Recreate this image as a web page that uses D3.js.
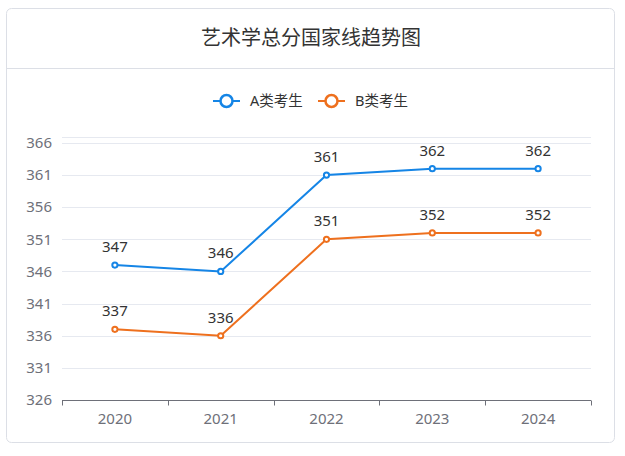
<!DOCTYPE html>
<html><head><meta charset="utf-8">
<script src="https://cdn.jsdelivr.net/npm/d3@7/dist/d3.min.js"></script>
<style>
html,body{margin:0;padding:0;background:#fff;}
svg{display:block;font-family:"Noto Sans","Noto Sans CJK SC",sans-serif;}
</style></head>
<body><svg id="c" width="625" height="456"></svg>
<script>
const title = "艺术学总分国家线趋势图";
const years = ["2020","2021","2022","2023","2024"];
const seriesNames = ["A类考生","B类考生"];
const seriesA = [347,346,361,362,362];
const seriesB = [337,336,351,352,352];
const yTicks = [326,331,336,341,346,351,356,361,366];
const yMin = 326, yMax = 367;
const colors = ["#1585e6","#ee701e"];

const svg = d3.select("#c");
// card
svg.append("rect").attr("x",6.5).attr("y",8.5).attr("width",608).attr("height",434)
  .attr("rx",5).attr("fill","#fff").attr("stroke","#dcdfe6");
svg.append("line").attr("x1",7).attr("x2",614).attr("y1",68.5).attr("y2",68.5).attr("stroke","#dcdfe6");
svg.append("text").attr("x",311).attr("y",45).attr("text-anchor","middle")
  .attr("font-size",20).attr("fill","#333").attr("font-family","Noto Sans CJK SC").text(title);

const x = d3.scaleBand().domain(years).range([62,591]);
const y = d3.scaleLinear().domain([yMin,yMax]).range([400,136.5]);

// grid
const gridVals = yTicks.concat([yMax]);
svg.append("g").selectAll("line").data(gridVals.filter(v=>v!==yMin)).join("line")
  .attr("x1",62).attr("x2",591).attr("y1",d=>Math.round(y(d))+0.5).attr("y2",d=>Math.round(y(d))+0.5)
  .attr("stroke","#e6e9f0").attr("stroke-width",1);

// y labels
svg.append("g").selectAll("text").data(yTicks).join("text")
  .attr("x",52).attr("y",d=>y(d)).attr("dy","0.35em").attr("text-anchor","end")
  .attr("font-size",15).attr("fill","#6e7079").text(d=>d);

// x axis
const gx = svg.append("g").attr("transform","translate(0,400.5)");
gx.append("line").attr("x1",62).attr("x2",591).attr("stroke","#6e7079");
const bounds = years.map(d=>x(d)).concat([x.range()[1]]);
gx.selectAll("line.tk").data(bounds).join("line").attr("class","tk")
  .attr("x1",d=>Math.round(d)+0.5).attr("x2",d=>Math.round(d)+0.5).attr("y1",0).attr("y2",5).attr("stroke","#6e7079");
gx.selectAll("text").data(years).join("text")
  .attr("x",d=>x(d)+x.bandwidth()/2).attr("y",23).attr("text-anchor","middle")
  .attr("font-size",15).attr("fill","#6e7079").text(d=>d);

// series
const data = [seriesA, seriesB];
const line = d3.line().x((d,i)=>x(years[i])+x.bandwidth()/2).y(d=>y(d));
data.forEach((s,k)=>{
  const g = svg.append("g");
  g.append("path").datum(s).attr("d",line).attr("fill","none").attr("stroke",colors[k]).attr("stroke-width",2);
  g.selectAll("circle").data(s).join("circle")
    .attr("cx",(d,i)=>x(years[i])+x.bandwidth()/2).attr("cy",d=>y(d)).attr("r",2.6)
    .attr("fill","#fff").attr("stroke",colors[k]).attr("stroke-width",2);
  g.selectAll("text").data(s).join("text")
    .attr("x",(d,i)=>x(years[i])+x.bandwidth()/2).attr("y",d=>y(d)-13)
    .attr("text-anchor","middle").attr("font-size",15).attr("fill","#333").text(d=>d);
});

// legend
const leg = [{x:213,tx:250},{x:318,tx:355}];
seriesNames.forEach((n,k)=>{
  const g = svg.append("g");
  g.append("line").attr("x1",leg[k].x).attr("x2",leg[k].x+27).attr("y1",101).attr("y2",101)
    .attr("stroke",colors[k]).attr("stroke-width",2);
  g.append("circle").attr("cx",leg[k].x+13.5).attr("cy",101).attr("r",6)
    .attr("fill","#fff").attr("stroke",colors[k]).attr("stroke-width",2.5);
  g.append("text").attr("x",leg[k].tx).attr("y",101).attr("dy","0.35em")
    .attr("font-size",14.5).attr("fill","#333").text(n);
});
</script></body></html>
